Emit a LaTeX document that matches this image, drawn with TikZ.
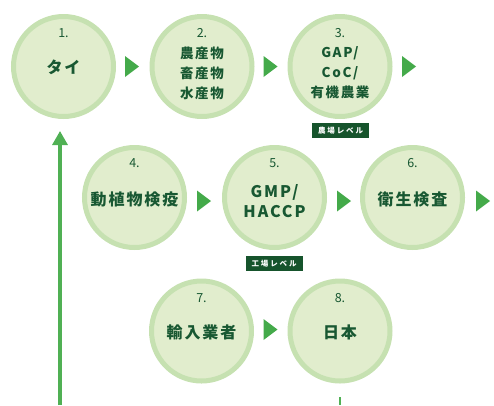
\documentclass[tikz,border=0pt]{standalone}
\usepackage{fontspec}
\setmainfont{Noto Sans CJK JP}
\newfontfamily\jpb{Noto Sans CJK JP}[LetterSpace=12]
\newfontfamily\jpl{Noto Sans CJK JP}[LetterSpace=25]
\usetikzlibrary{arrows.meta}
\definecolor{cfill}{RGB}{225,237,205}
\definecolor{cring}{RGB}{198,225,177}
\definecolor{ctext}{RGB}{24,88,50}
\definecolor{carrow}{RGB}{68,170,74}
\definecolor{cline}{RGB}{80,176,84}
\definecolor{clabel}{RGB}{22,84,44}
\tikzset{
  stage/.style={circle, fill=cfill, draw=cring, line width=5pt, minimum size=100pt, inner sep=0pt},
  num/.style={text=ctext, font=\fontsize{12.5}{14}\selectfont},
  main/.style={text=ctext, font=\jpb\bfseries\fontsize{16}{20}\selectfont, align=center, inner sep=0pt},
  small/.style={text=ctext, font=\jpb\bfseries\fontsize{13.5}{20}\selectfont, align=center, inner sep=0pt},
  lvl/.style={fill=clabel, text=white, font=\jpl\bfseries\fontsize{7.5}{8}\selectfont, minimum width=57pt, minimum height=15pt, inner sep=0pt},
  tri/.style={fill=carrow},
}
\begin{document}
\begin{tikzpicture}[x=1pt,y=-1pt]
\useasboundingbox (0,0) rectangle (494,405);
% return line
\coordinate (ls) at (60,405);
\coordinate (le) at (60,131);
\draw[cline, line width=3.2pt, -{Triangle[width=15pt,length=14pt]}] (ls) -- (le);
\coordinate (s8a) at (340,397);
\coordinate (s8b) at (340,405);
\draw[cline, line width=2.5pt] (s8a) -- (s8b);
% circles
\node[stage] (c1) at (63.5,66.5) {};
\node[stage] (c2) at (202,66.5) {};
\node[stage] (c3) at (340,66.5) {};
\node[stage] (c4) at (134.5,197.5) {};
\node[stage] (c5) at (274.5,197.5) {};
\node[stage] (c6) at (412.5,197.5) {};
\node[stage] (c7) at (201.5,331) {};
\node[stage] (c8) at (340,331) {};
% numbers
\node[num] (n1) at (63.5,33) {1.};
\node[num] (n2) at (202,33) {2.};
\node[num] (n3) at (340,33) {3.};
\node[num] (n4) at (134.5,163) {4.};
\node[num] (n5) at (274.5,163) {5.};
\node[num] (n6) at (412.5,163) {6.};
\node[num] (n7) at (201.5,298) {7.};
\node[num] (n8) at (340,298) {8.};
% texts
\node[main] (t1) at (63.5,67) {タイ};
\node[small] (t2) at (202,73) {農産物\\畜産物\\水産物};
\node[small] (t3) at (340,73) {GAP/\\CoC/\\有機農業};
\node[main] (t4) at (134.5,199) {動植物検疫};
\node[main] (t5) at (274.5,201) {GMP/\\HACCP};
\node[main] (t6) at (412.5,199) {衛生検査};
\node[main] (t7) at (201.5,332) {輸入業者};
\node[main] (t8) at (340,332) {日本};
% level labels
\node[lvl] (l3) at (340.5,130.5) {農場レベル};
\node[lvl] (l5) at (274,263.5) {工場レベル};
% arrows
\foreach \x/\y in {132/66.5, 270.5/66.5, 409/66.5, 204/201, 344/201, 483/201, 270.5/329.5}{
  \fill[tri, shift={(\x,\y)}] (-7,-10.5) -- (7,0) -- (-7,10.5) -- cycle;
}
\end{tikzpicture}
\end{document}
